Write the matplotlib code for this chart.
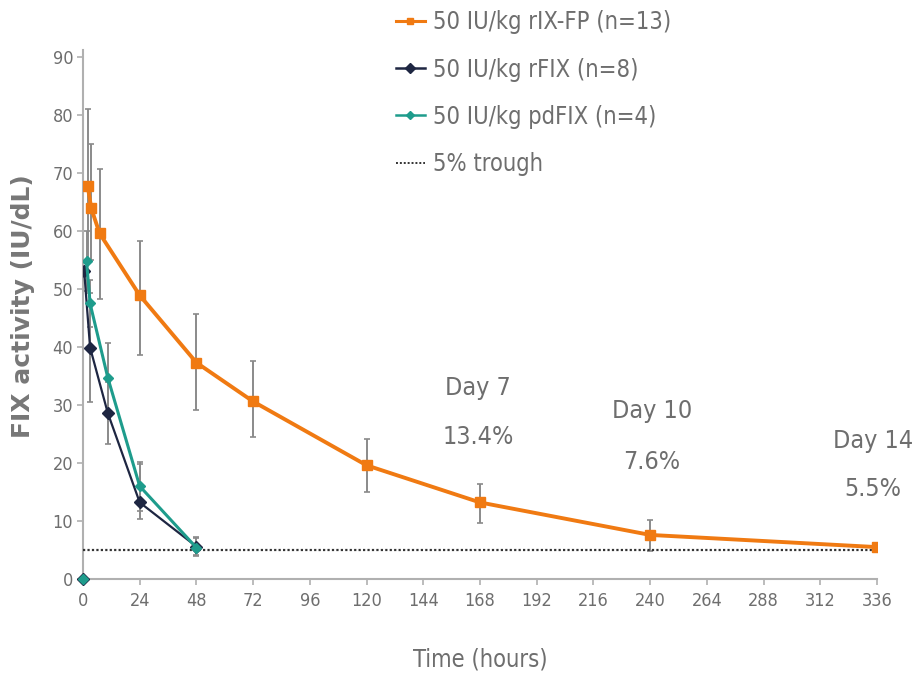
import matplotlib
matplotlib.use("Agg")
import matplotlib.pyplot as plt
from matplotlib.lines import Line2D
import numpy as np

plt.rcParams['font.family'] = ['DejaVu Sans']
plt.rcParams['font.stretch'] = 'condensed'

# ---- data ----
orange_t = [2, 3.5, 7, 24, 48, 72, 120, 168, 240, 336]
orange_y = [67.7, 63.9, 59.6, 48.9, 37.3, 30.6, 19.6, 13.2, 7.6, 5.5]
orange_hi = [81.0, 75.0, 70.7, 58.2, 45.7, 37.5, 24.2, 16.3, 10.2, 5.5]
orange_lo = [54.5, 55.0, 48.3, 38.7, 29.2, 24.4, 15.0, 9.7, 4.8, 5.5]

dark_t = [0.5, 3, 10.5, 24, 48]
dark_y = [53.1, 39.9, 28.6, 13.2, 5.6]
dark_hi = [53.1, 49.3, 34.0, 19.8, 7.0]
dark_lo = [53.1, 30.5, 23.2, 10.3, 4.2]

teal_t = [1.5, 3, 10.5, 24, 48]
teal_y = [54.8, 47.5, 34.7, 16.0, 5.4]
teal_hi = [60.0, 51.5, 40.7, 20.2, 7.2]
teal_lo = [49.6, 43.5, 28.7, 11.8, 4.0]

baseline_t = [0]
baseline_y = [0]

trough = 5
xticks = list(range(0, 337, 24))
yticks = list(range(0, 91, 10))

labels = ['50 IU/kg rIX-FP (n=13)', '50 IU/kg rFIX (n=8)', '50 IU/kg pdFIX (n=4)', '5% trough']
annotations = [(168, 'Day 7', '13.4%'), (240, 'Day 10', '7.6%'), (336, 'Day 14', '5.5%')]

# ---- style ----
c_orange = '#F07A12'
c_dark = '#1E2642'
c_teal = '#1E9C8C'
c_err = '#8A8A8A'
c_text = '#6E6E6E'
c_axis = '#B0B0B0'

fig = plt.figure(figsize=(9.13, 6.75), dpi=100)
ax = fig.add_axes([0.0909, 0.1422, 0.8697, 0.7838])


def ebars(t, y, hi, lo):
    y = np.array(y); hi = np.array(hi); lo = np.array(lo)
    ax.errorbar(t, y, yerr=[y - lo, hi - y], fmt='none', ecolor=c_err,
                elinewidth=1.4, capsize=2.5, capthick=1.2, zorder=2)

ebars(orange_t, orange_y, orange_hi, orange_lo)
ebars(dark_t, dark_y, dark_hi, dark_lo)
ebars(teal_t, teal_y, teal_hi, teal_lo)

ax.axhline(trough, color='#333333', lw=1.6, ls=(0, (1, 1)), zorder=3)

ax.plot(dark_t, dark_y, color=c_dark, lw=1.6, marker='D', ms=6, zorder=4)
ax.plot(teal_t, teal_y, color=c_teal, lw=2.2, marker='D', ms=5, zorder=5)
ax.plot(orange_t, orange_y, color=c_orange, lw=2.8, marker='s', ms=6.5, zorder=6)
ax.plot(baseline_t, baseline_y, color=c_dark, marker='D', ms=6, ls='none', clip_on=False, zorder=7)
ax.plot(baseline_t, baseline_y, color=c_teal, marker='D', ms=5, ls='none', clip_on=False, zorder=8)

ax.set_xlim(0, 336)
ax.set_ylim(0, 91.2)
ax.set_xticks(xticks)
ax.set_yticks(yticks)
for s in ['top', 'right']:
    ax.spines[s].set_visible(False)
for s in ['left', 'bottom']:
    ax.spines[s].set_color(c_axis)
    ax.spines[s].set_linewidth(1.5)
ax.tick_params(axis='both', colors=c_axis, length=4, width=1.2, labelsize=13, labelcolor=c_text)
ax.tick_params(axis='y', pad=3)
ax.tick_params(axis='x', pad=5)

ax.set_xlabel('Time (hours)', fontsize=17, color=c_text, labelpad=27)
ax.set_ylabel('FIX activity (IU/dL)', fontsize=18, color='#777777', fontweight='bold',
              fontstretch='normal', va='center')
ax.yaxis.set_label_coords(-0.0756, 0.516)

fig.canvas.draw()


def pix_to_y(py):
    return ax.transData.inverted().transform((0, 675 - py))[1]


def pix_to_x(px):
    return ax.transData.inverted().transform((px, 0))[0]

ann_y = {168: (388, 437), 240: (411, 462), 336: (441, 489)}
ann_x = {168: 478, 240: 652, 336: 873}
for t, d, p in annotations:
    xd = pix_to_x(ann_x[t])
    y1, y2 = ann_y[t]
    ax.text(xd, pix_to_y(y1), d, fontsize=18, color=c_text, ha='center', va='center', clip_on=False)
    ax.text(xd, pix_to_y(y2), p, fontsize=18, color=c_text, ha='center', va='center', clip_on=False)

handles = [
    Line2D([], [], color=c_orange, lw=2.2, marker='s', ms=5),
    Line2D([], [], color=c_dark, lw=1.8, marker='D', ms=5),
    Line2D([], [], color=c_teal, lw=1.8, marker='D', ms=4.5),
    Line2D([], [], color='#333333', lw=1.4, ls=(0, (1, 1))),
]
leg = fig.legend(handles, labels, loc='upper left', bbox_to_anchor=(375 / 913, 1.016),
                 frameon=False, fontsize=17, labelcolor=c_text, handlelength=1.2,
                 handletextpad=0.35, labelspacing=0.98)

fig.savefig('out.png', dpi=100)
